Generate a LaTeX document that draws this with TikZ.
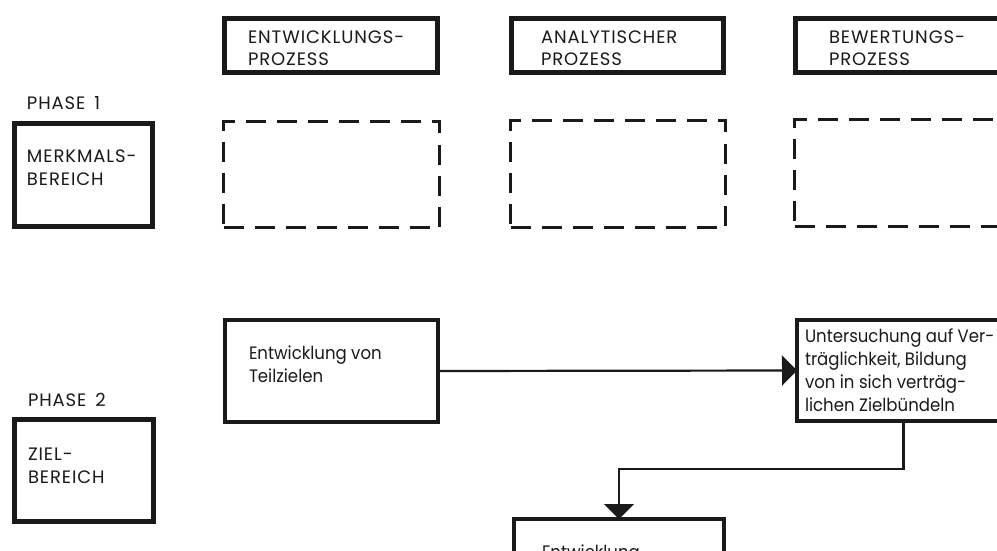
\documentclass[tikz,border=0pt]{standalone}
\usepackage{fontspec}
\setmainfont{Poppins}
\newfontfamily\lcfont{Poppins}[FakeStretch=0.92]
\usetikzlibrary{arrows.meta}
\definecolor{ink}{HTML}{1A1A1A}
\tikzset{
  hdbox/.style={draw=ink, line width=5pt, inner sep=0pt, outer sep=0pt},
  midbox/.style={draw=ink, line width=4pt, inner sep=0pt, outer sep=0pt},
  dbox/.style={draw=ink, line width=3pt, dash pattern=on 20pt off 11pt, inner sep=0pt, outer sep=0pt},
  lbl/.style={anchor=base west, inner sep=0pt, outer sep=0pt, text=ink, align=left,
    font=\lcfont\fontsize{18pt}{22.7pt}\selectfont},
  caps/.style={lbl, font=\fontsize{18pt}{22.7pt}\selectfont\addfontfeature{LetterSpace=5}},
  conn/.style={draw=ink, line width=2.2pt},
  tip/.style={-{Triangle[width=30pt,length=15pt]}}
}
\begin{document}
\begin{tikzpicture}[x=1pt,y=-1pt]
\useasboundingbox (0,0) rectangle (997,551);
\clip (0,0) rectangle (997,551);
\fill[white] (0,0) rectangle (997,551);
% header boxes
\node[hdbox, minimum width=213pt, minimum height=54pt] (h1) at (331,45.5) {};
\node[hdbox, minimum width=212pt, minimum height=54pt] (h2) at (617.5,45.5) {};
\node[hdbox, minimum width=213pt, minimum height=54pt] (h3) at (902,45.5) {};
\node[caps] (h1t) at (248,66) {ENTWICKLUNGS-\\PROZESS};
\node[caps] (h2t) at (541,66) {ANALYTISCHER\\PROZESS};
\node[caps] (h3t) at (829,66) {BEWERTUNGS-\\PROZESS};
% phase 1
\node[caps] (p1) at (27,110) {PHASE\hspace{0.5em}1};
\node[hdbox, minimum width=138pt, minimum height=103pt] (m) at (83.5,175) {};
\node[caps] (mt) at (27,185) {MERKMALS-\\BEREICH};
% dashed boxes
\node[dbox, minimum width=216pt, minimum height=106pt] (d1) at (331.5,174.5) {};
\node[dbox, minimum width=215pt, minimum height=107pt] (d2) at (618,174) {};
\node[dbox, minimum width=216pt, minimum height=107pt] (d3) at (902.5,173) {};
% phase 2
\node[caps] (p2) at (28,406) {PHASE\hspace{0.5em}2};
\node[hdbox, minimum width=139pt, minimum height=102pt] (z) at (84,470.5) {};
\node[caps] (zt) at (28,483) {ZIEL-\\BEREICH};
% process boxes
\node[midbox, minimum width=213pt, minimum height=102pt] (t) at (331.5,371) {};
\node[lbl] (tt) at (249,382) {Entwicklung von\\Teilzielen};
\node[midbox, minimum width=213pt, minimum height=101pt] (u) at (903.5,370.5) {};
\node[lbl] (ut) at (805,411) {Untersuchung auf Ver-\\träglichkeit, Bildung\\von in sich verträg-\\lichen Zielbündeln};
\node[midbox, minimum width=210pt, minimum height=102pt] (b) at (619,570) {};
\node[lbl] (bt) at (542,558) {Entwicklung};
% connectors
\coordinate (jog) at (0,469);
\draw[conn, tip] (t.east) -- (u.west);
\draw[conn, tip] (u.south) |- (jog -| b.north) -- (b.north);
\end{tikzpicture}
\end{document}
